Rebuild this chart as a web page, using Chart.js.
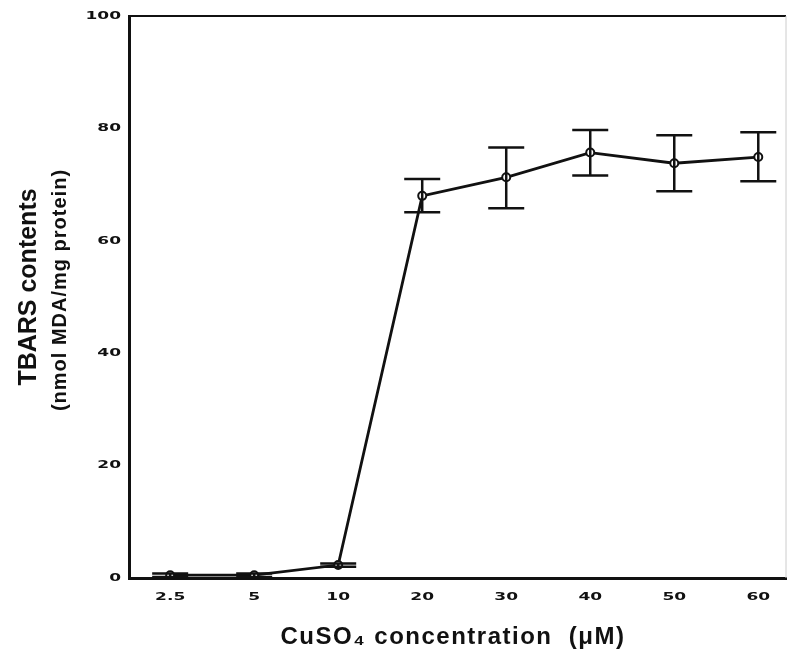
<!DOCTYPE html>
<html>
<head>
<meta charset="utf-8">
<script src="https://cdn.jsdelivr.net/npm/chart.js@4"></script>
<style>
  html, body { margin: 0; padding: 0; background: #fff; }
  #wrap { width: 792px; height: 653px; }
</style>
</head>
<body>
<div id="wrap"><canvas id="tbars-chart" width="792" height="653"></canvas></div>
<script>
'use strict';

var concLabels = ['2.5', '5', '10', '20', '30', '40', '50', '60'];
var tbarsValues = [0.5, 0.5, 2.3, 68.0, 71.3, 75.7, 73.8, 74.9];
var errUp = [0.3, 0.3, 0.3, 3.0, 5.3, 4.0, 5.0, 4.4];
var errDown = [0.3, 0.3, 0.3, 2.9, 5.5, 4.1, 5.0, 4.3];
var yTicks = [0, 20, 40, 60, 80, 100];

var ink = '#111';
var tickFont = "bold 11px 'DejaVu Sans', sans-serif";
var stretch = 1.55;

var points = tbarsValues.map(function (v, i) { return { x: i, y: v }; });

// wide, squat tick labels like the original typewriter-style digits
function wideText(ctx, text, x, y, align) {
  ctx.save();
  ctx.font = tickFont;
  ctx.textBaseline = 'middle';
  ctx.textAlign = align;
  ctx.translate(x, y);
  ctx.scale(stretch, 1);
  ctx.fillText(text, 0, 0);
  ctx.restore();
}

var errorBars = {
  id: 'errorBars',
  afterDatasetsDraw: function (chart) {
    var ctx = chart.ctx;
    var xs = chart.scales.x;
    var ys = chart.scales.y;
    var cap = 18;
    ctx.save();
    ctx.strokeStyle = ink;
    ctx.lineWidth = 2.5;
    for (var i = 0; i < tbarsValues.length; i++) {
      var px = xs.getPixelForValue(i);
      var top = ys.getPixelForValue(tbarsValues[i] + errUp[i]);
      var bot = ys.getPixelForValue(tbarsValues[i] - errDown[i]);
      ctx.beginPath();
      ctx.moveTo(px, top); ctx.lineTo(px, bot);
      ctx.moveTo(px - cap, top); ctx.lineTo(px + cap, top);
      ctx.moveTo(px - cap, bot); ctx.lineTo(px + cap, bot);
      ctx.stroke();
    }
    ctx.restore();
  }
};

var frameAndTitles = {
  id: 'frameAndTitles',
  beforeDatasetsDraw: function (chart) {
    var ctx = chart.ctx;
    var a = chart.chartArea;
    ctx.save();
    ctx.strokeStyle = ink;
    ctx.lineWidth = 2;
    ctx.beginPath();
    ctx.moveTo(a.left, a.top); ctx.lineTo(a.right, a.top);
    ctx.stroke();
    ctx.strokeStyle = '#ccc';
    ctx.lineWidth = 1;
    ctx.beginPath();
    ctx.moveTo(a.right, a.top); ctx.lineTo(a.right, a.bottom);
    ctx.stroke();
    ctx.restore();
  },
  afterDraw: function (chart) {
    var ctx = chart.ctx;
    var xs = chart.scales.x;
    var ys = chart.scales.y;
    ctx.save();
    ctx.fillStyle = ink;

    yTicks.forEach(function (v) {
      wideText(ctx, String(v), ys.right - 8, ys.getPixelForValue(v), 'right');
    });
    concLabels.forEach(function (l, i) {
      wideText(ctx, l, xs.getPixelForValue(i), 597, 'center');
    });

    ctx.textAlign = 'center';
    ctx.textBaseline = 'alphabetic';

    ctx.save();
    ctx.translate(36, 287);
    ctx.rotate(-Math.PI / 2);
    ctx.font = "bold 25px 'Liberation Sans', Arial, sans-serif";
    ctx.fillText('TBARS contents', 0, 0);
    ctx.restore();

    ctx.save();
    ctx.translate(66, 290);
    ctx.rotate(-Math.PI / 2);
    ctx.font = "bold 20px 'Liberation Sans', Arial, sans-serif";
    ctx.letterSpacing = '1px';
    ctx.fillText('(nmol MDA/mg protein)', 0, 0);
    ctx.restore();

    ctx.save();
    ctx.font = "bold 24px 'Liberation Sans', Arial, sans-serif";
    ctx.letterSpacing = '1.5px';
    ctx.fillText('CuSO\u2084 concentration  (\u03bcM)', 453, 644);
    ctx.restore();

    ctx.restore();
  }
};

new Chart(document.getElementById('tbars-chart'), {
  type: 'line',
  data: {
    datasets: [{
      label: 'TBARS',
      data: points,
      borderColor: ink,
      borderWidth: 2.8,
      pointRadius: 4,
      pointBorderWidth: 2,
      pointBackgroundColor: '#fff',
      pointBorderColor: ink,
      tension: 0
    }]
  },
  options: {
    responsive: false,
    animation: false,
    layout: { padding: { top: 16, right: 3, bottom: 0, left: 0 } },
    plugins: {
      legend: { display: false },
      tooltip: { enabled: false }
    },
    scales: {
      x: {
        type: 'linear',
        min: -0.49,
        max: 7.33,
        afterFit: function (s) { s.height = 75; },
        grid: { display: false },
        border: { display: true, color: ink, width: 3 },
        ticks: { display: false }
      },
      y: {
        min: 0,
        max: 100,
        afterFit: function (s) { s.width = 129; },
        grid: { display: false },
        border: { display: true, color: ink, width: 3 },
        ticks: { display: false }
      }
    }
  },
  plugins: [frameAndTitles, errorBars]
});
</script>
</body>
</html>
